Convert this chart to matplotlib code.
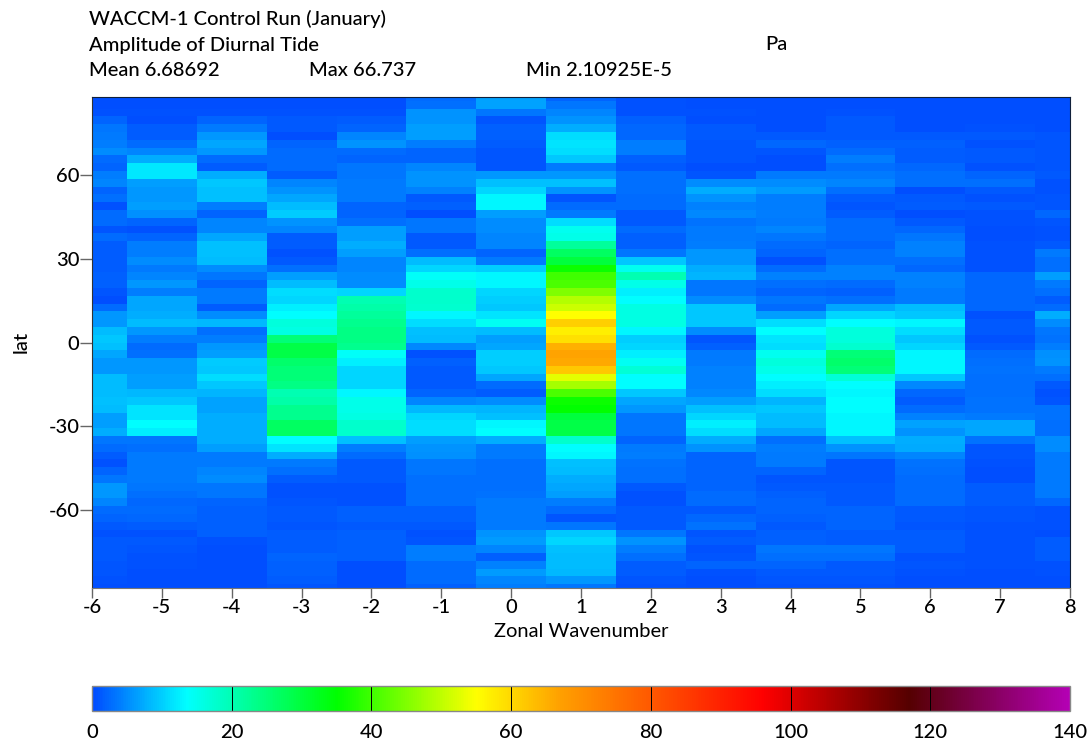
import numpy as np
import matplotlib
matplotlib.use("Agg")
import matplotlib.pyplot as plt
from matplotlib.colors import LinearSegmentedColormap

# amplitude by zonal wavenumber, rows run north to south
wn_m6 = [.5, .5, .7, 2, 3.5, 3.8, 4, 5, 2.5, 2, 4, 4.5, 2, 3, .8, 2.5,
         2.5, 1, 2.5, 1.5, 1.5, 1.5, 1.5, 1.7, 1.7, 1, .3, 2.5, 6, 6, 8.5, 9.5,
         9, 7, 6, 6, 8.5, 8.5, 8.5, 9, 8.5, 6.5, 6.5, 7.5, 3.5, 2.5, 1.5, .8,
         2, 3.5, 6, 6, 4.5, 2.5, 2, 1.3, .8, 1.2, 1.2, 1.1, 1, 1, .6, .5]
wn_m5 = [.5, .5, .6, .3, 1.5, 1.5, 2.5, 4.5, 7.5, 12, 12, 6.5, 6, 6, 6.3, 5.2,
         2, .8, 2, 4, 4, 5, 3.8, 4.5, 6, 4, 7, 7, 7.5, 8.5, 5.8, 4,
         2.5, 3, 6, 6, 6.5, 6.5, 8.3, 9.5, 11.5, 11.5, 13.5, 12.5, 3.5, 2.8, 3.8, 3.8,
         3.6, 3.6, 3.5, 3, 2.3, 2.5, 2.2, 1.5, .8, 1.3, 1, .7, .8, .5, .5, .4]
wn_m4 = [.5, .5, .6, 2, 3.8, 5.8, 7, 5.8, 2.5, 1.5, 7.5, 9.5, 9, 9, 4, 2,
         4.5, 4.5, 7, 9, 9, 8.5, 5, 3.5, 2, 3.8, 3.8, 1.5, 5, 8.3, 3, 4,
         6, 6.3, 9.8, 9.5, 11, 9.5, 8, 6.8, 6.8, 7.5, 7.5, 7.5, 7.5, 6.5, 3.8, 3.6,
         4.5, 5, 3.5, 3.5, 2, 1.9, 1.8, 1.8, 1.8, .6, .5, .5, .5, .5, .5, .5]
wn_m3 = [.5, .5, .6, 1.1, 1.3, .3, 2, 2.5, 2.5, 2.5, 1.5, 4.5, 5.5, 7, 8.5, 9.8,
         5.5, 4.5, 1.5, 1.5, .7, 1.2, 3, 6.3, 8.5, 11, 10.5, 12.5, 13.5, 16.5, 16, 25,
         29, 29, 26, 25, 25, 24, 20, 21, 23, 23, 27, 27, 13.5, 11.5, 7.5, 3.8,
         3, 1.6, .6, .6, 1, 1.2, 1.2, 1, 1.5, 1.5, 1.6, 2, 1.9, 1.9, 1.5, 1]
wn_m2 = [.5, .5, .7, 1.5, 2, 4.5, 5.5, 2.5, 2, 3.3, 3.3, 3.8, 3.8, 3.8, 2, 2,
         3, 6.3, 6.3, 7.5, 6.5, 4.5, 4.5, 5, 5, 10.5, 20, 21, 22, 23, 24, 24,
         23, 14, 12.5, 10.5, 10.5, 10.5, 13, 15.5, 15.5, 16, 18, 18, 9, 4, 2.5, 1.3,
         1.3, 1.2, .7, .7, .7, 1.8, 1.8, 1.2, 1.7, 1.7, 1.7, 1.7, .5, .5, .5, .4]
wn_m1 = [2.5, 3, 5.5, 5.5, 6.3, 6.3, 4, 2, 2, 4.5, 5.5, 5.5, 4.3, 1.3, 1.8, .5,
         3.3, 3.3, 1.3, 1.3, 3, 8.5, 10.5, 14, 15.5, 18, 18, 17.5, 13, 11, 9, 8.5,
         4.8, .8, 1.7, 1.3, 1.3, 1.3, 2, 4.5, 8.3, 10.5, 11, 11, 6.5, 5.5, 5.3, 3.3,
         3.3, 3, 3, 3, 3, 1.7, 1.7, 1.2, .7, .9, 4, 4, 2.5, 2.5, 2.5, 1.8]
wn_0 = [6.8, 6.8, 3.3, 1, 1.8, 1.8, 1.4, 1, 1, 1, 6, 9, 10.5, 13, 13, 6.5,
        5, 5, 4.5, 4.5, 2, 3.8, 10, 13, 13, 10.5, 10, 9.3, 11.5, 14.5, 8.5, 6.5,
        7, 10, 10, 9.5, 7, 2.5, 1.5, 5, 8, 9, 13, 13.5, 7.5, 3.8, 3.8, 3,
        3, 3, 3, 3.2, 3.8, 3.8, 3.8, 3.8, 5.5, 6.2, 4.5, 1.8, 4.2, 6.2, 4.5, 4]
wn_1 = [2, 3.3, 4.5, 5.5, 7.5, 11, 11.5, 11, 9.5, 3.8, 6, 9, 5.5, 1, 2.5, 3.8,
        11, 15, 15.5, 22, 27, 30, 36, 40, 41, 45, 49, 51, 55, 61, 57, 59,
        65, 66.7, 66, 62, 53, 48, 41, 36, 35, 30, 29, 29, 18, 13.5, 13, 9,
        8.5, 7.5, 7, 6.5, 4, 2.5, 1, 3.5, 9.5, 10.5, 9, 8.5, 8.5, 8.3, 6, 3.5]
wn_2 = [.6, .6, .7, 1.8, 2.3, 2.3, 4, 4, 1.8, 1.3, 2.8, 2.8, 2.8, 2.5, 2.5, 1.3,
        1.2, 2.6, 1.8, 1.8, 3.3, 9.5, 15, 20, 15.5, 12.5, 13.5, 16, 16, 16, 13, 10,
        10.5, 12.5, 14.5, 17, 13.5, 13.5, 9.5, 7, 6, 3.5, 3.5, 3.5, 2, 3.8, 4, 3.2,
        3, 3, 1.3, .8, .8, 1.3, 1.3, 1.3, 3.5, 5.5, 4, 3, 1.5, 1.5, 1, .7]
wn_3 = [.5, .5, .6, .3, 1.2, 1.2, 1, .9, .9, .5, .9, 5, 7.5, 5.5, 4.3, 4.8,
        3.2, 3.6, 3.6, 4, 6, 5.8, 7.5, 8, 3.5, 3.5, 5, 9.5, 9.5, 9.5, 5, 1,
        1.7, 3.8, 3.8, 4.2, 4.2, 4.2, 4.8, 6.5, 9, 10.5, 12.5, 11, 7.5, 5.5, 2, 2,
        2, 2, 2, 2.5, 2.5, 1.3, 2.3, 3.2, 1, 1.5, .6, 1, 2, .6, .5, .5]
wn_4 = [.5, .5, .5, .5, .4, 1.3, 2.3, 1, .4, .5, 3.6, 5, 6.2, 4, 4, 4,
        3.8, 4.5, 3.5, 2.7, 2, .7, 2.5, 4.3, 3, 2, 3.3, 2.5, 6.3, 11, 13.5, 11.5,
        11, 15, 16.5, 15.5, 13.5, 12.5, 11, 8, 9.5, 8.5, 8.5, 7, 3, 4, 3.8, 3.8,
        2, .9, 1.3, 1.7, 2, 2, 1.8, 1.3, 1.8, 1.8, 3.3, 3, 2, 1.3, 1, .8]
wn_5 = [.5, .5, .6, 1.3, 1.3, 1.3, 1.7, 2.7, 4, 3, 3.8, 4.5, 3, 1.5, .9, 1.5,
        2.5, 2.5, 2.5, 2, 3, 2.8, 4.3, 4.3, 2.5, 1.7, 2.8, 7, 10.5, 13.5, 16.5, 16.5,
        17.5, 25, 26, 25, 17, 13.5, 13, 13.5, 13.5, 13, 13, 13, 9, 5.5, 3.3, 1,
        1, 1, 1.2, 1.2, 1.2, 2.1, 2.1, 2.1, 1.6, 1.5, 3.3, 2.8, 1.1, 1.1, 1, .8]
wn_6 = [.5, .5, .5, .5, .5, 1.3, 1.8, 1.5, 1.5, 2.2, 2.8, 2.8, .5, 1.3, 1.5, .5,
        1.3, 2.3, 3.3, 4.2, 4.2, 3, 2.2, 4.3, 4.3, 3.8, 3.6, 8.5, 9.5, 13, 11, 9.5,
        10.5, 13, 13, 13, 9.5, 4.8, 2.4, 1.5, 2.6, 4.2, 6.8, 5.5, 7.5, 7.2, 4.4, 3.2,
        3, 2.7, 2.7, 2.7, 2.7, 1.3, 1.3, 1, 1.4, 1.4, 1.4, .7, .9, .8, .5, .5]
wn_7 = [.5, .5, .5, .5, .6, 1.1, .7, 1.3, 1.3, .7, 2, 3, 1.2, .8, 1.1, .6,
        .6, .5, .5, .6, .7, .7, .6, 2.2, 2.4, 2.4, 2.4, 2.2, .7, 1.2, 1.2, .8,
        1.2, 2.5, 2.8, 3.2, 3, 3, 3, 3.2, 3.2, 3.8, 7, 7, 3.2, 1, 1, .8,
        .5, .5, 1.4, 1.4, 1.4, .9, .9, .6, .6, .6, .6, .6, .6, .5, .5, .5]
wn_8 = [.5, .5, .5, .5, .5, .9, .9, .9, .9, 1, 1.3, .8, .7, .9, .9, 2.2,
        1, .8, .8, 1.3, 3.8, 2.8, 3, 6.5, 3.8, 2.8, 1.5, 2.7, 7.5, 5, 3.5, 3.2,
        4, 5.2, 5.7, 3.7, 2.8, 1.2, .6, 1, 3.2, 3.2, 3, 3, 5, 5, 3.8, 3.8,
        3.8, 3.8, 3.8, 3.8, 2.2, .8, .8, .8, .5, 1.5, 1.5, 1.5, .6, .6, .5, .5]

wavenumbers = list(range(-6, 9))
lat_ticks = [60, 30, 0, -30, -60]
cbar_ticks = [0, 20, 40, 60, 80, 100, 120, 140]

# colour scale stops
stop_vals = [0, 13.5, 35, 55, 67, 96, 117, 140]
stop_cols = ['#004aff', '#00ffff', '#00ff00', '#ffff00', '#ffa000', '#ff0000', '#550000', '#b400b4']

W, H = 1091, 744
plt.rcParams['font.family'] = ['Lato', 'DejaVu Sans']
plt.rcParams['font.weight'] = 'medium'
plt.rcParams['axes.unicode_minus'] = False


def main():
    amp = np.array([wn_m6, wn_m5, wn_m4, wn_m3, wn_m2, wn_m1, wn_0, wn_1,
                    wn_2, wn_3, wn_4, wn_5, wn_6, wn_7, wn_8]).T
    lat = np.linspace(87.86, -87.86, amp.shape[0])
    cmap = LinearSegmentedColormap.from_list(
        'tide', [(v / 140, c) for v, c in zip(stop_vals, stop_cols)], N=512)

    fig = plt.figure(figsize=(W / 100, H / 100), dpi=100)
    ax = fig.add_axes([92 / W, 1 - 588 / H, 978 / W, 491 / H])
    mesh = ax.pcolormesh(wavenumbers, lat, amp, shading='nearest', cmap=cmap,
                         vmin=0, vmax=140)
    ax.set_xlim(-6, 8)
    ax.set_ylim(-87.86, 87.86)
    ax.set_xticks(wavenumbers)
    ax.set_yticks(lat_ticks)
    ax.tick_params(width=1, color='#666666', labelsize=14.5)
    ax.tick_params(axis='x', length=7.2, pad=0.5)
    ax.tick_params(axis='y', length=8.6, pad=0.5)
    for s in ax.spines.values():
        s.set_color('#10203a')
    ax.spines['bottom'].set_color('#777777')
    ax.spines['left'].set_color('#333333')
    ax.set_xlabel('Zonal Wavenumber', fontsize=14.5, labelpad=5.5)

    fig.text(21 / W, 1 - 342 / H, 'lat', rotation=90, fontsize=14.5, ha='center', va='center')

    # header lines
    fig.text(89 / W, 1 - 19 / H, 'WACCM-1 Control Run (January)', fontsize=14.5, va='center')
    fig.text(89 / W, 1 - 45 / H, 'Amplitude of Diurnal Tide', fontsize=14.5, va='center')
    fig.text(765 / W, 1 - 45 / H, 'Pa', fontsize=14.5, va='center')
    fig.text(89 / W, 1 - 70 / H, 'Mean 6.68692', fontsize=14.5, va='center')
    fig.text(309 / W, 1 - 70 / H, 'Max 66.737', fontsize=14.5, va='center')
    fig.text(526 / W, 1 - 70 / H, 'Min 2.10925E-5', fontsize=14.5, va='center')

    cax = fig.add_axes([92 / W, 1 - 711 / H, 978 / W, 25 / H])
    cbar = fig.colorbar(mesh, cax=cax, orientation='horizontal')
    cbar.set_ticks(cbar_ticks)
    cbar.minorticks_off()
    cax.tick_params(length=0, labelsize=14.5, pad=9)
    for v in cbar_ticks[1:-1]:
        cax.axvline(v, color='black', lw=0.7)
    cbar.outline.set_edgecolor('#888888')
    cbar.outline.set_linewidth(1)

    fig.savefig('out.png', dpi=100)


if __name__ == '__main__':
    main()
